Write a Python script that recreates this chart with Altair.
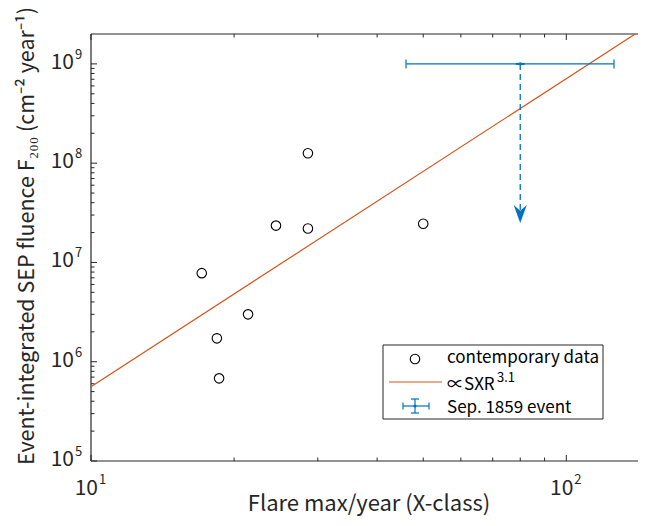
import altair as alt
import pandas as pd

# ---------------- data ----------------
flare_x = [28.6, 24.5, 28.6, 50.0, 17.1, 21.4, 18.4, 18.6]
fluence = [1.26e8, 2.35e7, 2.2e7, 2.45e7, 7.8e6, 3.0e6, 1.72e6, 6.8e5]

fit_x = [10, 150]
fit_y = [5.6e5, 2.5e9]

event_x = [80]
event_y = [1e9]
event_xlo = [46]
event_xhi = [126]
arrow_tip = [2.5e7]

x_major = [10, 100]
x_exp = ["1", "2"]
x_minor = [20, 30, 40, 50, 60, 70, 80, 90]
y_major = [1e5, 1e6, 1e7, 1e8, 1e9]
y_exp = ["5", "6", "7", "8", "9"]
y_minor = [m * 10 ** e for e in range(5, 9) for m in range(2, 10)]

x_domain = [10, 150]
y_domain = [1e5, 2e9]

# ---------------- styling ----------------
W, H = 559, 427
FONT = "Noto Sans CJK JP"
AX = "#262626"
BLUE = "#0072BD"
ORANGE = "#D95319"
TICK_FS = 21
SUP_FS = 13
TITLE_FS = 22
YTITLE_FS = 21.5
LEG_FS = 17

xs = alt.Scale(type="log", domain=x_domain, nice=False)
ys = alt.Scale(type="log", domain=y_domain, nice=False)

one = pd.DataFrame({"a": [0]})


def X(f="x"):
    return alt.X(f"{f}:Q", scale=xs, axis=None)


def Y(f="y"):
    return alt.Y(f"{f}:Q", scale=ys, axis=None)


layers = []

# ---- box lines (left, bottom, top; the right one lies beyond the frame) ----
layers.append(alt.Chart(one).mark_rule(color=AX, strokeWidth=1.2).encode(
    x=alt.value(0), y=alt.value(0), y2=alt.value(H)))
layers.append(alt.Chart(one).mark_rule(color=AX, strokeWidth=1.2).encode(
    x=alt.value(0), x2=alt.value(W), y=alt.value(H)))
layers.append(alt.Chart(one).mark_rule(color=AX, strokeWidth=1.2).encode(
    x=alt.value(0), x2=alt.value(W), y=alt.value(0)))

# ---- inward ticks ----
dfxM = pd.DataFrame({"x": x_major})
dfxm = pd.DataFrame({"x": x_minor})
dfyM = pd.DataFrame({"y": y_major})
dfym = pd.DataFrame({"y": y_minor})
for df, ln in [(dfxM, 6), (dfxm, 3.5)]:
    layers.append(alt.Chart(df).mark_rule(color=AX, strokeWidth=1).encode(
        x=X(), y=alt.value(H), y2=alt.value(H - ln)))
    layers.append(alt.Chart(df).mark_rule(color=AX, strokeWidth=1).encode(
        x=X(), y=alt.value(0), y2=alt.value(ln)))
for df, ln in [(dfyM, 6), (dfym, 3.5)]:
    layers.append(alt.Chart(df).mark_rule(color=AX, strokeWidth=1).encode(
        y=Y(), x=alt.value(0), x2=alt.value(ln)))

# ---- fit line ----
fit = pd.DataFrame({"x": fit_x, "y": fit_y})
layers.append(alt.Chart(fit).mark_line(color=ORANGE, strokeWidth=1.2, clip=True).encode(
    x=X(), y=Y()))

# ---- contemporary data ----
pts = pd.DataFrame({"x": flare_x, "y": fluence})
layers.append(alt.Chart(pts).mark_point(shape="circle", filled=False, color="black",
                                        size=90, strokeWidth=1.1, opacity=1).encode(
    x=X(), y=Y()))

# ---- Sep 1859 event ----
ev = pd.DataFrame({"x": event_x, "y": event_y, "xlo": event_xlo, "xhi": event_xhi,
                   "tip": arrow_tip})
caps = pd.DataFrame({"x": event_xlo + event_xhi, "y": event_y * 2})
layers.append(alt.Chart(ev).mark_rule(color=BLUE, strokeWidth=1.3,
                                      strokeDash=[6, 4], strokeCap="butt").encode(
    x=X(), y=Y(), y2="tip:Q"))
layers.append(alt.Chart(ev).mark_rule(color=BLUE, strokeWidth=1.2).encode(
    x=X("xlo"), x2="xhi:Q", y=Y()))
layers.append(alt.Chart(caps).mark_tick(color=BLUE, orient="vertical", size=9,
                                        thickness=1.2, opacity=1).encode(x=X(), y=Y()))
layers.append(alt.Chart(ev).mark_tick(color=BLUE, orient="horizontal", size=9,
                                      thickness=2, opacity=1).encode(x=X(), y=Y()))
layers.append(alt.Chart(ev).mark_point(shape="circle", filled=True, color=BLUE,
                                       size=10, opacity=1).encode(x=X(), y=Y()))
layers.append(alt.Chart(ev).mark_point(
    shape="M0,1L-0.73,-1L0,-0.35L0.73,-1Z", filled=True, color=BLUE, size=324,
    opacity=1, yOffset=-9, strokeWidth=0).encode(x=X(), y=Y("tip")))

# ---- tick labels ----
xl = pd.DataFrame({"x": x_major, "e": x_exp})
layers.append(alt.Chart(xl).mark_text(text="10", font=FONT, fontSize=TICK_FS, color=AX,
                                      align="right", baseline="middle", dx=7).encode(
    x=X(), y=alt.value(H + 28)))
layers.append(alt.Chart(xl).mark_text(font=FONT, fontSize=SUP_FS, color=AX,
                                      align="left", baseline="middle", dx=8).encode(
    x=X(), y=alt.value(H + 19), text="e:N"))
yl = pd.DataFrame({"y": y_major, "e": y_exp})
layers.append(alt.Chart(yl).mark_text(text="10", font=FONT, fontSize=TICK_FS, color=AX,
                                      align="right", baseline="middle", dx=-17, dy=-1).encode(
    y=Y(), x=alt.value(0)))
layers.append(alt.Chart(yl).mark_text(font=FONT, fontSize=SUP_FS, color=AX,
                                      align="left", baseline="middle", dx=-16, dy=-9).encode(
    y=Y(), x=alt.value(0), text="e:N"))

# ---- axis titles ----
layers.append(alt.Chart(one).mark_text(text="Flare max/year (X-class)", font=FONT,
                                       fontSize=TITLE_FS, color=AX, align="center",
                                       baseline="alphabetic").encode(
    x=alt.value(278), y=alt.value(H + 50)))
layers.append(alt.Chart(one).mark_text(
    text="Event-integrated SEP fluence F\u2082\u2080\u2080 (cm\u207b\u00b2 year\u207b\u00b9)",
    font=FONT, fontSize=YTITLE_FS, color=AX, align="left", baseline="middle",
    angle=270).encode(x=alt.value(-63), y=alt.value(431)))

# ---- legend ----
layers.append(alt.Chart(one).mark_rect(fill="white", stroke=AX, strokeWidth=1).encode(
    x=alt.value(292), x2=alt.value(512), y=alt.value(311), y2=alt.value(385)))
layers.append(alt.Chart(one).mark_point(shape="circle", filled=False, color="black",
                                        size=90, strokeWidth=1.1, opacity=1).encode(
    x=alt.value(324), y=alt.value(325)))
layers.append(alt.Chart(one).mark_rule(color=ORANGE, strokeWidth=1.2).encode(
    x=alt.value(298), x2=alt.value(351), y=alt.value(348)))
layers.append(alt.Chart(one).mark_rule(color=BLUE, strokeWidth=1.2).encode(
    x=alt.value(312), x2=alt.value(338), y=alt.value(372)))
layers.append(alt.Chart(one).mark_rule(color=BLUE, strokeWidth=1.2).encode(
    x=alt.value(324), y=alt.value(365), y2=alt.value(379)))
for xx in (312, 338):
    layers.append(alt.Chart(one).mark_rule(color=BLUE, strokeWidth=1.2).encode(
        x=alt.value(xx), y=alt.value(368.5), y2=alt.value(375.5)))
for yy in (365, 379):
    layers.append(alt.Chart(one).mark_rule(color=BLUE, strokeWidth=1.2).encode(
        x=alt.value(320), x2=alt.value(328), y=alt.value(yy)))
layers.append(alt.Chart(one).mark_point(shape="circle", filled=True, color=BLUE,
                                        size=10, opacity=1).encode(
    x=alt.value(324), y=alt.value(372)))
layers.append(alt.Chart(one).mark_text(text="contemporary data", font=FONT,
                                       fontSize=LEG_FS, color="black", align="left",
                                       baseline="middle").encode(
    x=alt.value(356), y=alt.value(324)))
layers.append(alt.Chart(one).mark_text(text="\u221dSXR", font=FONT,
                                       fontSize=LEG_FS, color="black", align="left",
                                       baseline="middle").encode(
    x=alt.value(356), y=alt.value(351)))
layers.append(alt.Chart(one).mark_text(text="3.1", font=FONT, fontSize=SUP_FS,
                                       color="black", align="left",
                                       baseline="middle").encode(
    x=alt.value(406), y=alt.value(344)))
layers.append(alt.Chart(one).mark_text(text="Sep. 1859 event", font=FONT,
                                       fontSize=LEG_FS, color="black", align="left",
                                       baseline="middle").encode(
    x=alt.value(356), y=alt.value(374)))

chart = alt.layer(*layers).properties(
    width=W, height=H,
    autosize=alt.AutoSizeParams(type="none"),
    padding={"left": 83, "top": 26, "right": -12, "bottom": 57},
).configure_view(stroke="transparent", strokeWidth=0)

chart.save("out.html", embed_options={"renderer": "svg", "actions": False})
